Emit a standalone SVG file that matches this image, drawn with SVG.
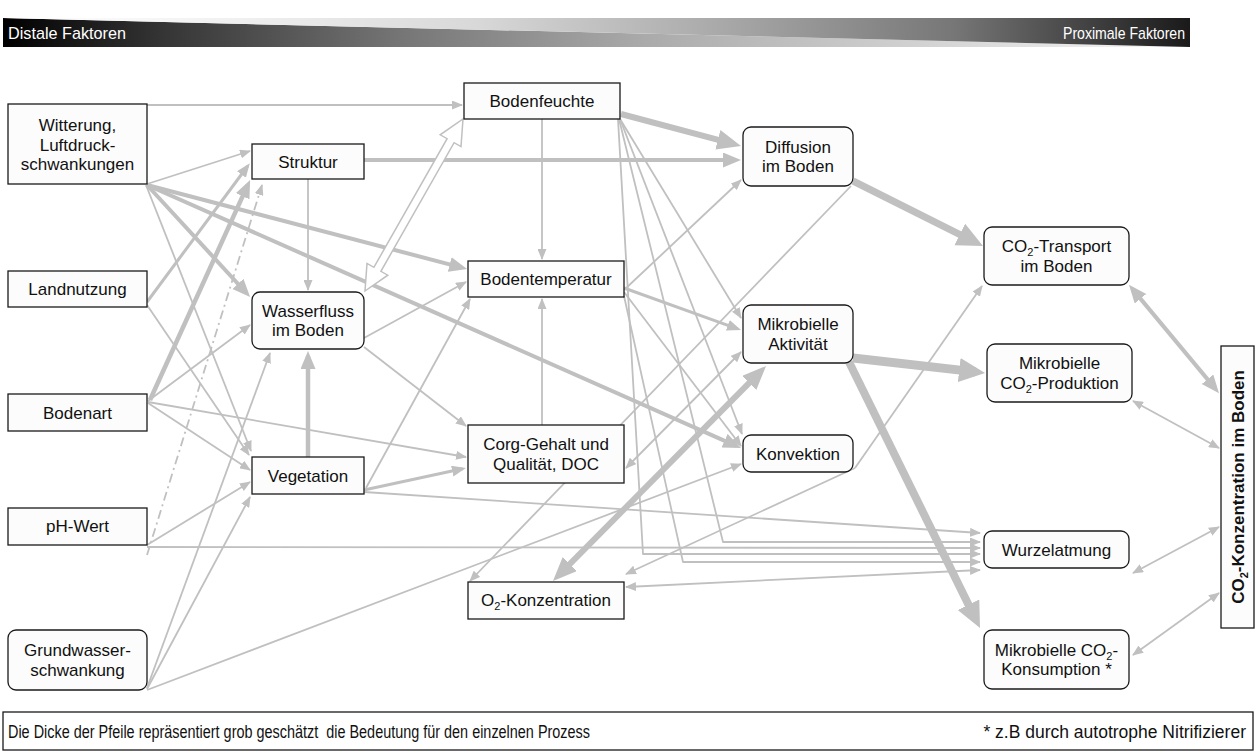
<svg xmlns="http://www.w3.org/2000/svg" width="1256" height="753" viewBox="0 0 1256 753">
<style>
.n{fill:#fcfcfc;stroke:#1a1a1a;stroke-width:1.3}
.t{font-family:"Liberation Sans",Arial,sans-serif;font-size:17px;fill:#111;text-anchor:middle}
.c{fill:none;stroke:#c0c0c0;stroke-linejoin:round}
.w1{stroke-width:1.8;marker-end:url(#m1)}
.d1{stroke-width:1.8;marker-end:url(#m1);marker-start:url(#m1)}
.hdr{font-family:"Liberation Sans",Arial,sans-serif;font-size:17px;fill:#fff}
.ft{font-family:"Liberation Sans",Arial,sans-serif;font-size:17.5px;fill:#111;white-space:pre}
</style>
<defs>
<linearGradient id="gLow" gradientUnits="userSpaceOnUse" x1="3" y1="0" x2="1190" y2="0"><stop offset="0" stop-color="#000"/><stop offset="0.13" stop-color="#333"/><stop offset="0.34" stop-color="#777"/><stop offset="0.54" stop-color="#aaa"/><stop offset="0.74" stop-color="#ccc"/><stop offset="0.94" stop-color="#eee"/><stop offset="1" stop-color="#f4f4f4"/></linearGradient>
<linearGradient id="gUp" gradientUnits="userSpaceOnUse" x1="3" y1="0" x2="1190" y2="0"><stop offset="0" stop-color="#fff"/><stop offset="0.2" stop-color="#f0f0f0"/><stop offset="0.4" stop-color="#d8d8d8"/><stop offset="0.6" stop-color="#aaa"/><stop offset="0.8" stop-color="#777"/><stop offset="1" stop-color="#1a1a1a"/></linearGradient>
<marker id="m1" markerUnits="userSpaceOnUse" markerWidth="12" markerHeight="9" refX="10" refY="4.5" orient="auto-start-reverse"><path d="M0,0 L11,4.5 L0,9 z" fill="#c0c0c0"/></marker>
<marker id="m3" markerUnits="userSpaceOnUse" markerWidth="15" markerHeight="12" refX="10.5" refY="5.5" orient="auto-start-reverse"><path d="M0,0 L14,5.5 L0,11 z" fill="#c0c0c0"/></marker>
<marker id="m4" markerUnits="userSpaceOnUse" markerWidth="19" markerHeight="16" refX="12.5" refY="7.5" orient="auto-start-reverse"><path d="M0,0 L18,7.5 L0,15 z" fill="#c0c0c0"/></marker>
<marker id="m6" markerUnits="userSpaceOnUse" markerWidth="25" markerHeight="21" refX="16" refY="10" orient="auto-start-reverse"><path d="M0,0 L24,10 L0,20 z" fill="#c0c0c0"/></marker>
<marker id="m8" markerUnits="userSpaceOnUse" markerWidth="27" markerHeight="25" refX="16.5" refY="12" orient="auto-start-reverse"><path d="M0,0 L26,12 L0,24 z" fill="#c0c0c0"/></marker>
</defs>
<rect width="1256" height="753" fill="#fff"/>
<g id="header">
<polygon points="3,18 1190,47 3,47" fill="url(#gLow)"/>
<polygon points="3,18 1190,18 1190,47" fill="url(#gUp)"/>
<text class="hdr" x="8" y="39" textLength="118" lengthAdjust="spacingAndGlyphs">Distale Faktoren</text>
<text class="hdr" x="1185" y="39" text-anchor="end" textLength="122" lengthAdjust="spacingAndGlyphs">Proximale Faktoren</text>
</g>
<g id="connectors">
<path class="c w1" d="M851,186 L470,581"/>
<path class="c w1" d="M147,105 L462,105"/>
<path class="c w1" d="M147,184 L250,151"/>
<path class="c w1" d="M146,185 L251,451"/>
<path class="c w1" d="M147,305 L249,455"/>
<path class="c w1" d="M148,401 L250,325"/>
<path class="c w1" d="M148,402 L466,457"/>
<path class="c w1" d="M148,403 L250,470"/>
<path class="c w1" d="M147,545 L250,482"/>
<path class="c w1" d="M147,547 L980,548"/>
<path class="c w1" d="M147,555 L262,185" stroke-dasharray="9,4,2,4"/>
<path class="c w1" d="M147,688 L270,353"/>
<path class="c w1" d="M147,689 L250,497"/>
<path class="c w1" d="M147,690 L741,464"/>
<path class="c w1" d="M308,179 L308,290"/>
<path class="c w1" d="M364,338 L466,282"/>
<path class="c w1" d="M364,347 L466,426"/>
<path class="c w1" d="M366,488 L470,299"/>
<path class="c w1" d="M364,492 L980,533"/>
<path class="c w1" d="M542,119 L542,259"/>
<path class="c w1" d="M620,119 L741,318"/>
<path class="c w1" d="M620,119 L742,434"/>
<path class="c w1" d="M619,119 L723,542 L980,542"/>
<path class="c w1" d="M618,119 L643,554 L980,554"/>
<path class="c w1" d="M624,296 L683,562 L980,562"/>
<path class="c w1" d="M624,290 L741,180"/>
<path class="c w1" d="M624,292 L741,446"/>
<path class="c w1" d="M542,425 L542,299"/>
<path class="c d1" d="M741,352 L626,468"/>
<path class="c w1" d="M855,468 L982,286"/>
<path class="c w1" d="M855,468 L626,574"/>
<path class="c d1" d="M626,587 L980,570"/>
<path class="c d1" d="M1133,401 L1219,448"/>
<path class="c d1" d="M1133,573 L1219,527"/>
<path class="c d1" d="M1133,655 L1219,593"/>
<path class="c" stroke-width="4" marker-end="url(#m4)" d="M147,185 L246.4,293"/>
<path class="c" stroke-width="4" marker-end="url(#m4)" d="M147,185 L461.8,267.6"/>
<path class="c" stroke-width="4" marker-end="url(#m4)" d="M147,185 L736,445.8"/>
<path class="c" stroke-width="3" marker-end="url(#m3)" d="M147,302 L247.7,166"/>
<path class="c" stroke-width="4.5" marker-end="url(#m4)" d="M150,400 L247.8,184.9"/>
<path class="c" stroke-width="4" marker-end="url(#m4)" d="M364,160 L735.5,160"/>
<path class="c" stroke-width="4.5" marker-end="url(#m4)" d="M308,457 L308,356.5"/>
<path class="c" stroke-width="3" marker-end="url(#m3)" d="M364,490 L462.5,468.8"/>
<path class="c" stroke-width="3" marker-end="url(#m3)" d="M624,288 L737.7,328.8"/>
<path class="c" stroke-width="6" marker-end="url(#m6)" d="M621,114 L733.3,143.9"/>
<path class="c" stroke-width="7" marker-end="url(#m8)" d="M853,181 L974.5,241.8"/>
<path class="c" stroke-width="9" marker-end="url(#m8)" d="M853,358 L975.6,371.9"/>
<path class="c" stroke-width="8" marker-end="url(#m8)" d="M849,362 L975.8,619.5"/>
<path class="c" stroke-width="6" marker-start="url(#m6)" marker-end="url(#m6)" d="M558.6,575.3 L760.4,371.7"/>
<path class="c" stroke-width="4" marker-start="url(#m4)" marker-end="url(#m4)" d="M1132.5,289.1 L1215.5,388.9"/>
<polygon points="365,291 387.8,275.2 380.9,271.3 454.1,142.7 461,146.6 463,119 440.2,134.8 447.1,138.7 373.9,267.3 367,263.4" fill="#fff" stroke="#c0c0c0" stroke-width="1.5" stroke-linejoin="miter"/>
</g>
<g id="n-witterung"><rect class="n" x="8" y="104" width="139" height="80"/><text class="t" x="77.5" y="131">Witterung,</text><text class="t" x="77.5" y="150.5">Luftdruck-</text><text class="t" x="77.5" y="170">schwankungen</text></g>
<g id="n-landnutzung"><rect class="n" x="8" y="271" width="139" height="36"/><text class="t" x="77.5" y="295">Landnutzung</text></g>
<g id="n-bodenart"><rect class="n" x="8" y="394" width="139" height="37"/><text class="t" x="77.5" y="418.5">Bodenart</text></g>
<g id="n-ph"><rect class="n" x="8" y="508" width="139" height="37"/><text class="t" x="77.5" y="532">pH-Wert</text></g>
<g id="n-grundwasser"><rect class="n" x="8" y="630" width="139" height="60" rx="8"/><text class="t" x="77.5" y="656">Grundwasser-</text><text class="t" x="77.5" y="675.5">schwankung</text></g>
<g id="n-struktur"><rect class="n" x="252" y="144" width="112" height="35"/><text class="t" x="308" y="167.5">Struktur</text></g>
<g id="n-wasserfluss"><rect class="n" x="252" y="292" width="112" height="57" rx="8"/><text class="t" x="308" y="316.5">Wasserfluss</text><text class="t" x="308" y="336">im Boden</text></g>
<g id="n-vegetation"><rect class="n" x="252" y="457" width="112" height="37"/><text class="t" x="308" y="481.5">Vegetation</text></g>
<g id="n-bodenfeuchte"><rect class="n" x="464" y="83" width="156" height="36"/><text class="t" x="542" y="107">Bodenfeuchte</text></g>
<g id="n-bodentemperatur"><rect class="n" x="468" y="261" width="156" height="36"/><text class="t" x="546" y="285">Bodentemperatur</text></g>
<g id="n-corg"><rect class="n" x="468" y="425" width="156" height="58"/><text class="t" x="546" y="450">Corg-Gehalt und</text><text class="t" x="546" y="469.5">Qualität, DOC</text></g>
<g id="n-o2"><rect class="n" x="468" y="582" width="156" height="37"/><text class="t" x="546" y="606">O<tspan font-size="11" dy="4">2</tspan><tspan dy="-4">-Konzentration</tspan></text></g>
<g id="n-diffusion"><rect class="n" x="743" y="127" width="110" height="59" rx="8"/><text class="t" x="798" y="152.5">Diffusion</text><text class="t" x="798" y="172">im Boden</text></g>
<g id="n-aktivitaet"><rect class="n" x="743" y="305" width="110" height="58" rx="8"/><text class="t" x="798" y="330">Mikrobielle</text><text class="t" x="798" y="349.5">Aktivität</text></g>
<g id="n-konvektion"><rect class="n" x="743" y="435" width="110" height="37" rx="8"/><text class="t" x="798" y="459.5">Konvektion</text></g>
<g id="n-transport"><rect class="n" x="984" y="227" width="145" height="58" rx="8"/><text class="t" x="1056.5" y="252">CO<tspan font-size="11" dy="4">2</tspan><tspan dy="-4">-Transport</tspan></text><text class="t" x="1056.5" y="271.5">im Boden</text></g>
<g id="n-produktion"><rect class="n" x="987" y="344" width="145" height="58" rx="8"/><text class="t" x="1059.5" y="369">Mikrobielle</text><text class="t" x="1059.5" y="388.5">CO<tspan font-size="11" dy="4">2</tspan><tspan dy="-4">-Produktion</tspan></text></g>
<g id="n-wurzelatmung"><rect class="n" x="984" y="531" width="145" height="37" rx="8"/><text class="t" x="1056.5" y="555.5">Wurzelatmung</text></g>
<g id="n-konsumption"><rect class="n" x="984" y="630" width="145" height="59" rx="8"/><text class="t" x="1056.5" y="655.5">Mikrobielle CO<tspan font-size="11" dy="4">2</tspan><tspan dy="-4">-</tspan></text><text class="t" x="1056.5" y="675">Konsumption *</text></g>
<g id="n-konzentration"><rect class="n" x="1221" y="346" width="33" height="282"/><text class="t" transform="translate(1244,487) rotate(-90)" font-weight="bold">CO<tspan font-size="11" dy="4">2</tspan><tspan dy="-4">-Konzentration im Boden</tspan></text></g>
<g id="footer">
<rect x="3" y="712" width="1250" height="38" fill="#fff" stroke="#1a1a1a" stroke-width="1.3"/>
<text class="ft" x="8" y="738" textLength="582" lengthAdjust="spacingAndGlyphs">Die Dicke der Pfeile repräsentiert grob geschätzt  die Bedeutung für den einzelnen Prozess</text>
<text class="ft" x="1246" y="738" text-anchor="end" font-size="17">* z.B durch autotrophe Nitrifizierer</text>
</g>
</svg>
